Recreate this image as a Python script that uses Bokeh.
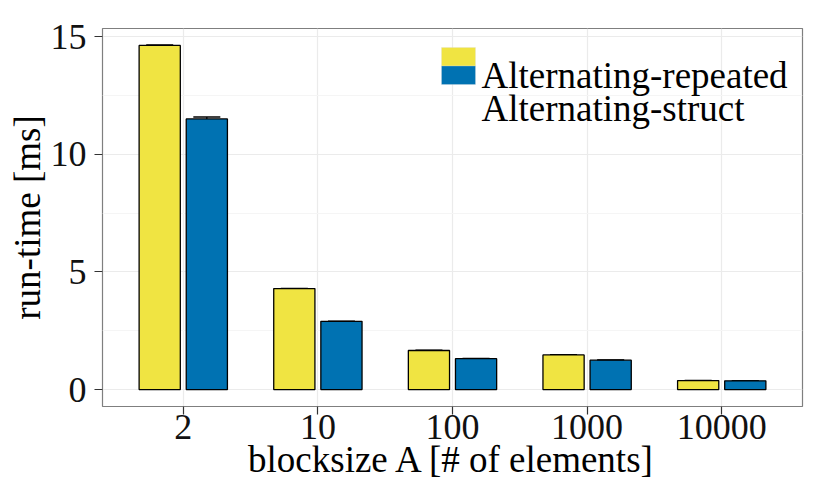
from bokeh.plotting import figure
from bokeh.models import (FactorRange, Range1d, ColumnDataSource, FixedTicker, Whisker,
                          TeeHead, BoxAnnotation, Label)
from bokeh.transform import dodge
from bokeh.embed import file_html
from bokeh.resources import INLINE

# ---- data ----
blocksizes = ["2", "10", "100", "1000", "10000"]
series = ["Alternating-repeated", "Alternating-struct"]
repeated_ms = [14.62, 4.29, 1.66, 1.47, 0.38]
repeated_err = [0.02, 0.01, 0.01, 0.01, 0.01]
struct_ms = [11.50, 2.90, 1.31, 1.25, 0.37]
struct_err = [0.08, 0.01, 0.01, 0.01, 0.01]
colors = ["#F0E442", "#0072B2"]
y_ticks = [0, 5, 10, 15]
y_minor = [2.5, 7.5, 12.5]

FONT = "Liberation Serif"

p = figure(width=814, height=482, output_backend="svg", toolbar_location=None,
           x_range=FactorRange(factors=blocksizes, range_padding=0.1,
                               range_padding_units="absolute"),
           y_range=Range1d(-0.72, 15.34),
           min_border_left=102, min_border_right=12, min_border_top=28, min_border_bottom=76)

p.background_fill_color = "white"
p.border_fill_color = "white"
p.outline_line_color = "#7F7F7F"
p.outline_line_width = 1.2

# grid
p.xgrid.grid_line_color = "#EBEBEB"
p.ygrid.grid_line_color = "#EBEBEB"
p.ygrid.minor_grid_line_color = "#F5F5F5"
p.xgrid.grid_line_width = 1.2
p.ygrid.grid_line_width = 1.2

p.yaxis.ticker = FixedTicker(ticks=y_ticks, minor_ticks=y_minor)

for ax in (p.xaxis, p.yaxis):
    ax.axis_line_color = None
    ax.major_tick_line_color = "#333333"
    ax.major_tick_line_width = 1.2
    ax.major_tick_out = 8
    ax.major_tick_in = 0
    ax.minor_tick_out = 0
    ax.minor_tick_in = 0
    ax.major_label_text_font = FONT
    ax.major_label_text_font_size = "36px"
    ax.major_label_text_color = "#111111"
    ax.axis_label_text_font = FONT
    ax.axis_label_text_font_size = "37px"
    ax.axis_label_text_font_style = "normal"
    ax.axis_label_text_color = "black"

p.xaxis.axis_label = "blocksize A [# of elements]"
p.yaxis.axis_label = "run-time [ms]"
p.xaxis.major_label_standoff = 0
p.yaxis.major_label_standoff = 8
p.xaxis.axis_label_standoff = -3
p.yaxis.axis_label_standoff = 0

src = ColumnDataSource(dict(
    cat=blocksizes,
    rep=repeated_ms, rep_lo=[m - e for m, e in zip(repeated_ms, repeated_err)],
    rep_hi=[m + e for m, e in zip(repeated_ms, repeated_err)],
    st=struct_ms, st_lo=[m - e for m, e in zip(struct_ms, struct_err)],
    st_hi=[m + e for m, e in zip(struct_ms, struct_err)],
))

off = 0.175
bw = 0.306
p.vbar(x=dodge("cat", -off, range=p.x_range), top="rep", bottom=0, width=bw, source=src,
       fill_color=colors[0], line_color="black", line_width=1.3)
p.vbar(x=dodge("cat", off, range=p.x_range), top="st", bottom=0, width=bw, source=src,
       fill_color=colors[1], line_color="black", line_width=1.3)

for sign, lo, hi in ((-1, "rep_lo", "rep_hi"), (1, "st_lo", "st_hi")):
    w = Whisker(base=dodge("cat", sign * off, range=p.x_range), lower=lo, upper=hi, source=src,
                line_color="black", line_width=1.3,
                upper_head=TeeHead(size=27, line_color="black", line_width=1.3),
                lower_head=TeeHead(size=27, line_color="black", line_width=1.3))
    p.add_layout(w)

# legend (drawn like ggplot: compact keys, large labels)
key_l, key_r = 339, 373
keys = [(340.5, 359), (322, 340.5)]
label_y = [331, 298]
for (b, t), col, name, ly in zip(keys, colors, series, label_y):
    p.add_layout(BoxAnnotation(left=key_l, right=key_r, bottom=b, top=t,
                               left_units="screen", right_units="screen",
                               bottom_units="screen", top_units="screen",
                               fill_color=col, fill_alpha=1.0,
                               line_color="#DDDDDD", line_width=1))
    p.add_layout(Label(x=379, y=ly, x_units="screen", y_units="screen", text=name,
                       text_font=FONT, text_font_size="37px", text_color="black",
                       text_baseline="alphabetic", text_align="left"))

open("out.html", "w").write(file_html(p, INLINE))
